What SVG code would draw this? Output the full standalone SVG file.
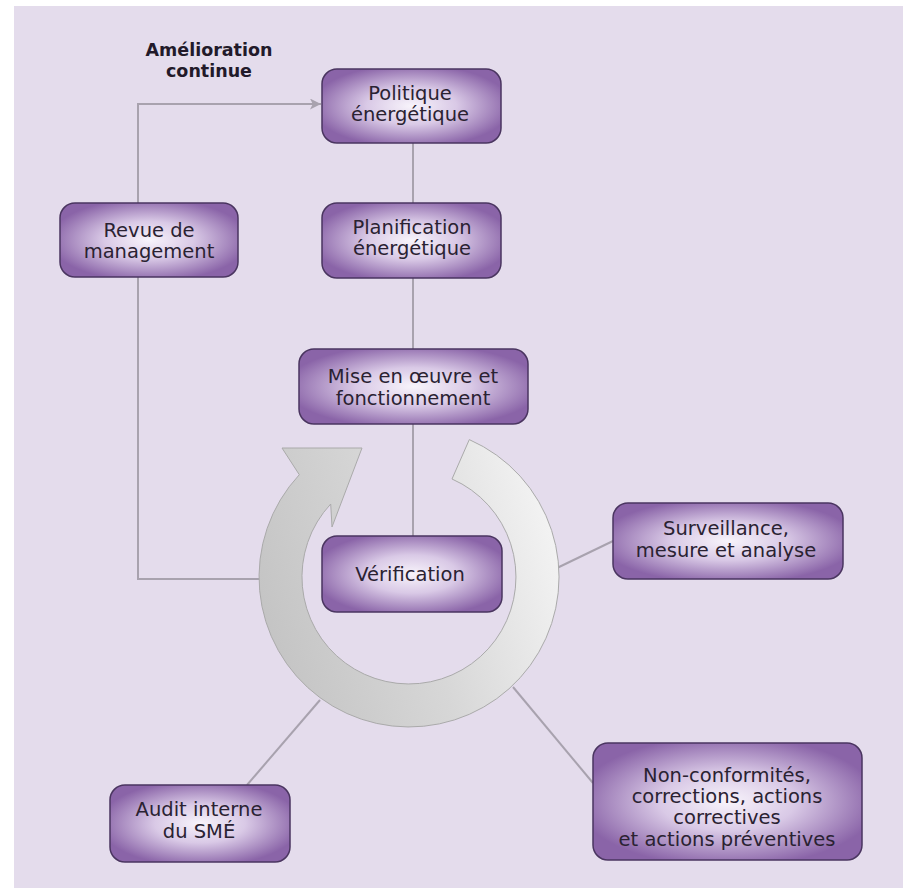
<svg xmlns="http://www.w3.org/2000/svg" width="909" height="894" viewBox="0 0 909 894">
<defs>
<radialGradient id="nodeGrad" cx="0.5" cy="0.5" r="0.56">
<stop offset="0" stop-color="#f8f4fb"/>
<stop offset="0.45" stop-color="#d9c9e6"/>
<stop offset="1" stop-color="#8a64a8"/>
</radialGradient>
<linearGradient id="ringGrad" x1="0" y1="0.6" x2="1" y2="0.3">
<stop offset="0" stop-color="#c4c4c4"/>
<stop offset="0.5" stop-color="#d7d7d7"/>
<stop offset="1" stop-color="#f4f4f4"/>
</linearGradient>
<marker id="arrow" viewBox="0 0 10 10" refX="10" refY="5" markerWidth="14" markerHeight="11" markerUnits="userSpaceOnUse" orient="auto">
<path d="M0,0 L10,5 L0,10 L2.5,5 Z" fill="#a8a2ae"/>
</marker>
<style>
.node rect{fill:url(#nodeGrad);stroke:#4a3560;stroke-width:1.5}
.node text{font-family:"DejaVu Sans","Liberation Sans",sans-serif;font-size:19.5px;fill:#2a2232;text-anchor:middle}
.conn{fill:none;stroke:#a8a2ae;stroke-width:2}
.title{font-family:"DejaVu Sans","Liberation Sans",sans-serif;font-size:17.5px;font-weight:bold;fill:#221a2a;text-anchor:middle}
</style>
</defs>
<rect x="0" y="0" width="909" height="894" fill="#ffffff"/>
<rect x="14" y="6" width="889" height="882" fill="#e4dcec"/>

<text class="title" x="209" y="56">Amélioration</text>
<text class="title" x="209" y="77">continue</text>

<g id="connectors">
<polyline class="conn" points="138,203 138,104 321,104" marker-end="url(#arrow)"/>
<line class="conn" x1="413" y1="143" x2="413" y2="203"/>
<line class="conn" x1="413" y1="278" x2="413" y2="349"/>
<line class="conn" x1="413" y1="424" x2="413" y2="536"/>
<polyline class="conn" points="138,277 138,579 260,579"/>
<line class="conn" x1="557" y1="568" x2="613" y2="541"/>
<line class="conn" x1="513" y1="687" x2="593" y2="783"/>
<line class="conn" x1="320" y1="700" x2="247" y2="785"/>
</g>

<g id="cycle">
<path d="M469.3,439.6 A150,150 0 1 1 299.3,474.7 L282,448 L362,448 L332,527 L330.7,504 A107,107 0 1 0 452,479 Z" fill="url(#ringGrad)" stroke="#aaaaaa" stroke-width="1"/>
</g>

<g id="politique" class="node">
<rect x="322" y="69" width="179" height="74" rx="15"/>
<text x="410" y="100">Politique</text>
<text x="410" y="121">énergétique</text>
</g>
<g id="planification" class="node">
<rect x="322" y="203" width="179" height="75" rx="15"/>
<text x="412" y="234">Planification</text>
<text x="412" y="255">énergétique</text>
</g>
<g id="revue" class="node">
<rect x="60" y="203" width="178" height="74" rx="15"/>
<text x="149" y="237">Revue de</text>
<text x="149" y="258">management</text>
</g>
<g id="mise" class="node">
<rect x="299" y="349" width="229" height="75" rx="15"/>
<text x="413" y="383">Mise en œuvre et</text>
<text x="413" y="405">fonctionnement</text>
</g>
<g id="verification" class="node">
<rect x="322" y="536" width="180" height="76" rx="15"/>
<text x="410" y="581">Vérification</text>
</g>
<g id="surveillance" class="node">
<rect x="613" y="503" width="230" height="76" rx="15"/>
<text x="726" y="535">Surveillance,</text>
<text x="726" y="557">mesure et analyse</text>
</g>
<g id="nonconformites" class="node">
<rect x="593" y="743" width="269" height="117" rx="15"/>
<text x="727" y="782">Non-conformités,</text>
<text x="727" y="803">corrections, actions</text>
<text x="727" y="824">correctives</text>
<text x="727" y="846">et actions préventives</text>
</g>
<g id="audit" class="node">
<rect x="110" y="785" width="180" height="77" rx="15"/>
<text x="199" y="816">Audit interne</text>
<text x="199" y="838">du SMÉ</text>
</g>
</svg>
